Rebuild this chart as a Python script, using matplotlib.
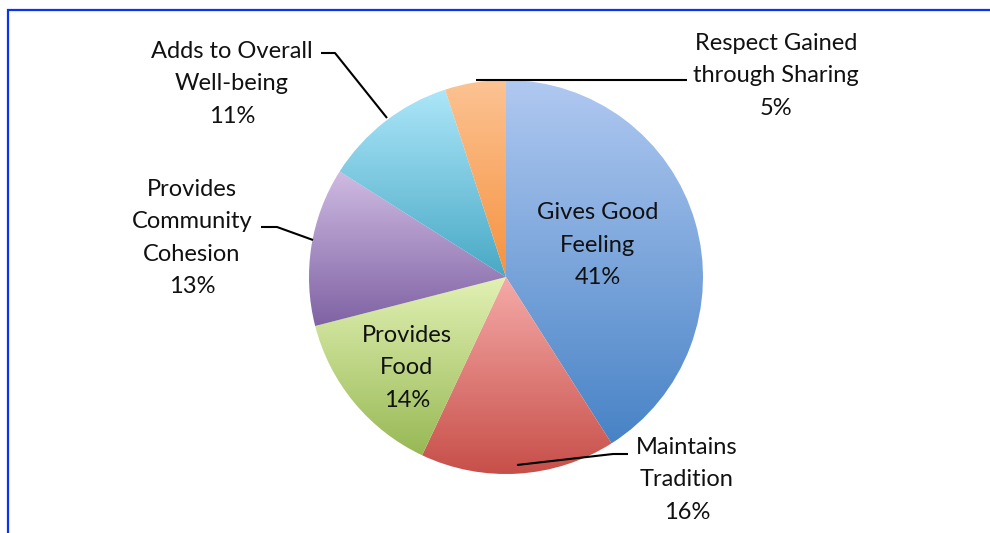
import numpy as np
import matplotlib.pyplot as plt
from matplotlib.colors import to_rgb

plt.rcParams['font.family'] = ['Lato', 'DejaVu Sans']

# Reasons for sharing, share of responses (%)
labels = ['Gives Good\nFeeling', 'Maintains\nTradition', 'Provides\nFood',
          'Provides\nCommunity\nCohesion', 'Adds to Overall\nWell-being',
          'Respect Gained\nthrough Sharing']
shares = [41, 16, 14, 13, 11, 5]

# top / bottom colour of each slice's vertical gradient
top_colors = ['#B0C9F1', '#F5AAA8', '#E2F1B4', '#CFBBE2', '#ADE6F9', '#FCC393']
bottom_colors = ['#4883C6', '#C74E48', '#98B955', '#7F62A4', '#48A9C5', '#F6923F']

fig = plt.figure(figsize=(9.9, 5.33), dpi=100)
ax = fig.add_axes([0, 0, 1, 1])

cx, cy, r = 506, 277, 197
# y axis points down, so counter-clockwise in data is clockwise on screen
wedges, _ = ax.pie(shares, center=(cx, cy), radius=r, startangle=-90,
                   counterclock=True, wedgeprops=dict(facecolor='none', edgecolor='none'))

for w, c0, c1 in zip(wedges, top_colors, bottom_colors):
    v = w.get_path().vertices
    x0, x1 = v[:, 0].min(), v[:, 0].max()
    y0, y1 = v[:, 1].min(), v[:, 1].max()
    t = np.linspace(0, 1, 256)[:, None]
    grad = (1 - t) * np.array(to_rgb(c0)) + t * np.array(to_rgb(c1))
    im = ax.imshow(grad[:, None, :], extent=[x0, x1, y1, y0], origin='upper',
                   aspect='auto', zorder=1, interpolation='bilinear')
    im.set_clip_path(w)

ax.set_xlim(0, 990)
ax.set_ylim(533, 0)
ax.set_aspect('equal')
ax.axis('off')

fs = 17
ls = 1.67
txt = dict(ha='center', va='center', fontsize=fs, linespacing=ls, color='#111111', zorder=5)

def lbl(i):
    return f'{labels[i]}\n{shares[i]}%'

# labels inside the two larger slices
ax.text(598, 245, lbl(0), **txt)
ax.text(407, 368, lbl(2), **txt)

# outside labels
ax.text(687, 480, lbl(1), **txt)
ax.text(192, 238, lbl(3), **txt)
ax.text(232, 84, lbl(4), **txt)
ax.text(776, 76, lbl(5), **txt)

# leader lines
lk = dict(color='black', lw=1.5, zorder=4, solid_capstyle='butt')
ax.plot([628, 613, 517], [454, 454, 465], **lk)
ax.plot([261, 277, 313], [227, 227, 240], **lk)
ax.plot([321, 335, 387], [53, 53, 118], **lk)
ax.plot([476, 687], [80, 80], **lk)

# blue frame along the top and left edges
ax.plot([8, 8, 990], [533, 9.5, 9.5], color='#0B33F2', lw=1.6, zorder=6,
        solid_joinstyle='miter')

fig.savefig('out.png', dpi=100, facecolor='white')
